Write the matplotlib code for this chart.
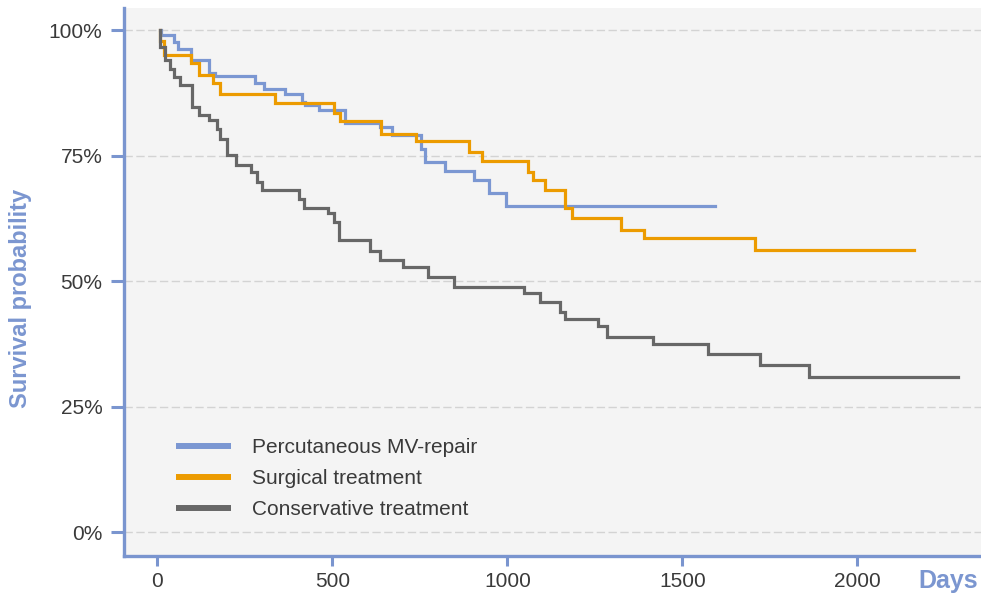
import matplotlib
matplotlib.use("Agg")
import matplotlib.pyplot as plt
from matplotlib.lines import Line2D

plt.rcParams['font.family'] = ['Liberation Sans', 'DejaVu Sans']

# ---- data ----
days_pmvr = [8, 10, 49, 58, 97, 149, 166, 280, 304, 364, 413, 423, 463, 537, 635, 670, 753, 766, 821, 904, 947, 997, 1594]
surv_pmvr = [100, 99.1, 97.6, 96.2, 94.1, 91.4, 90.9, 89.4, 88.2, 87.2, 85.7, 85.1, 84.1, 81.5, 80.7, 79.2, 76.4, 73.8, 72.0, 70.1, 67.5, 65.0, 65.0]

days_surg = [8, 9, 18, 97, 120, 158, 178, 337, 504, 523, 639, 740, 890, 928, 1059, 1073, 1109, 1166, 1185, 1325, 1390, 1707, 2161]
surv_surg = [100, 97.9, 95.1, 93.4, 91.0, 89.5, 87.2, 85.4, 83.4, 81.9, 79.4, 77.9, 75.8, 74.0, 71.8, 70.1, 68.1, 64.5, 62.6, 60.3, 58.7, 56.2, 56.2]

days_cons = [8, 9, 23, 37, 49, 66, 99, 120, 147, 170, 180, 199, 226, 269, 285, 299, 404, 420, 489, 504, 518,
             609, 637, 701, 773, 849, 1047, 1094, 1149, 1166, 1259, 1285, 1416, 1572, 1721, 1861, 2287]
surv_cons = [100, 96.7, 94.0, 92.2, 90.7, 89.0, 84.7, 83.1, 82.1, 80.4, 78.4, 75.1, 73.1, 71.7, 69.8, 68.1, 66.3, 64.6, 63.5, 61.8, 58.2,
             56.0, 54.3, 52.9, 50.9, 48.8, 47.6, 45.9, 43.9, 42.5, 41.1, 38.9, 37.5, 35.6, 33.3, 30.9, 30.9]

labels = ["Percutaneous MV-repair", "Surgical treatment", "Conservative treatment"]
colors = ["#7b97d2", "#ec9b00", "#676767"]
x_ticks = [0, 500, 1000, 1500, 2000]
y_ticks = [0, 25, 50, 75, 100]
y_ticklabels = ["0%", "25%", "50%", "75%", "100%"]

# ---- figure ----
W, H = 981, 593
fig = plt.figure(figsize=(W / 100, H / 100), dpi=100)
ax = fig.add_axes([124 / W, 37 / H, 1 - 124 / W, (556 - 8) / H])
ax.set_facecolor("#f4f4f4")

spine_c = "#7a95cf"
text_c = "#3a3a3a"

series = [(days_pmvr, surv_pmvr), (days_surg, surv_surg), (days_cons, surv_cons)]
for (d, s), c in zip(series, colors):
    ax.step(d, s, where="post", color=c, lw=2.3, solid_joinstyle="miter", zorder=3)

ax.set_xlim(-95, 2353)
ax.set_ylim(-4.7, 104.4)
ax.set_xticks(x_ticks)
ax.set_yticks(y_ticks)
ax.set_yticklabels(y_ticklabels)

for sp in ["top", "right"]:
    ax.spines[sp].set_visible(False)
for sp in ["left", "bottom"]:
    ax.spines[sp].set_color(spine_c)
    ax.spines[sp].set_linewidth(2.4)

ax.tick_params(axis="y", direction="out", length=9.5, width=2.2, color=spine_c,
               labelsize=15, labelcolor=text_c, pad=6)
ax.tick_params(axis="x", direction="out", length=7.5, width=2.2, color=spine_c,
               labelsize=15, labelcolor=text_c, pad=4)

ax.yaxis.grid(True, color="#d3d3d3", lw=1.0, linestyle=(0, (6, 2.5)), zorder=0)
ax.xaxis.grid(False)
ax.set_axisbelow(True)

fig.text(21 / W, 1 - 298 / H, "Survival probability", rotation=90, ha="center", va="center",
         fontsize=17, fontweight="bold", color="#7b96d0")
fig.text(978 / W, 1 - 581 / H, "Days", ha="right", va="center",
         fontsize=18, fontweight="bold", color="#7b96d0")

handles = [Line2D([0], [0], color=c, lw=4.3, solid_capstyle="butt") for c in colors]
leg = fig.legend(handles, labels, loc="upper left", bbox_to_anchor=(176 / W, 1 - 438 / H),
                 frameon=False, fontsize=15, handlelength=2.65, handletextpad=1.0,
                 labelspacing=0.58, borderpad=0, borderaxespad=0)
for t in leg.get_texts():
    t.set_color(text_c)

fig.savefig("out.png", dpi=100, facecolor="white")
